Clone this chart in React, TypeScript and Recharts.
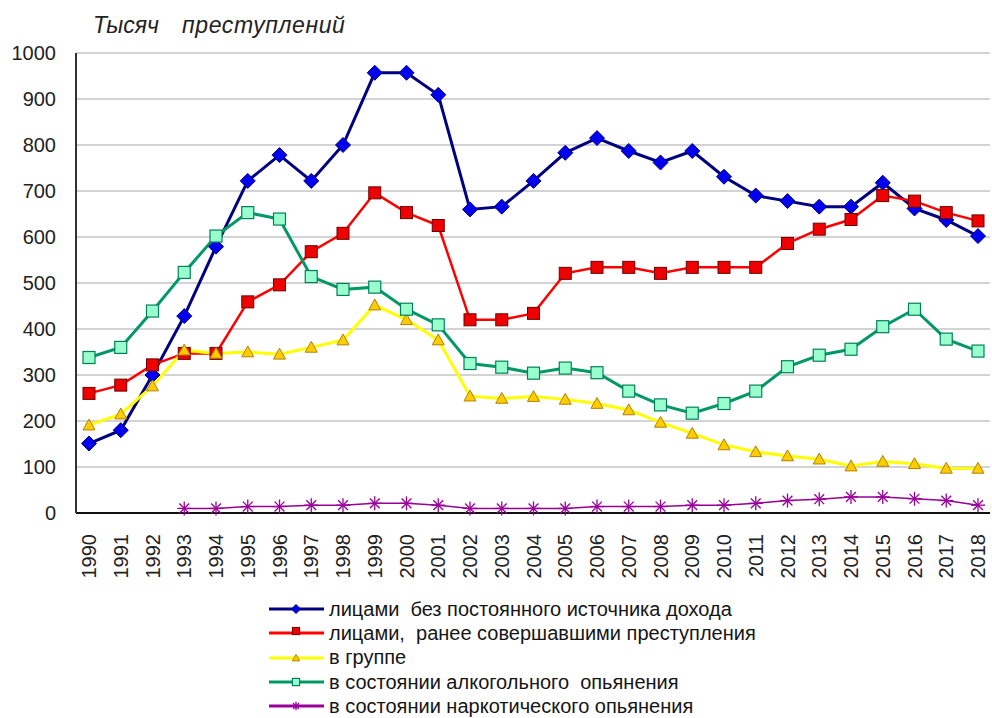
import React from 'react';
import {
  LineChart,
  Line,
  XAxis,
  YAxis,
  CartesianGrid,
  Legend,
} from 'recharts';

const years = [
  '1990', '1991', '1992', '1993', '1994', '1995', '1996', '1997', '1998', '1999',
  '2000', '2001', '2002', '2003', '2004', '2005', '2006', '2007', '2008', '2009',
  '2010', '2011', '2012', '2013', '2014', '2015', '2016', '2017', '2018',
];

// лицами без постоянного источника дохода
const noIncome = [
  151, 180, 300, 428, 579, 722, 778, 722, 800, 957,
  957, 909, 660, 666, 722, 783, 815, 787, 762, 787,
  731, 690, 678, 666, 666, 718, 662, 637, 602,
];

// лицами, ранее совершавшими преступления
const repeat = [
  260, 278, 322, 347, 347, 459, 496, 568, 608, 696,
  653, 625, 420, 420, 434, 521, 534, 534, 521, 534,
  534, 534, 586, 617, 638, 690, 678, 653, 635,
];

// в группе
const group = [
  191, 215, 276, 354, 347, 350, 345, 360, 376, 452,
  420, 376, 254, 249, 253, 247, 238, 224, 197, 173,
  148, 133, 124, 117, 102, 112, 107, 97, 97,
];

// в состоянии алкогольного опьянения
const alcohol = [
  338, 360, 439, 523, 602, 653, 639, 514, 486, 491,
  443, 409, 325, 317, 304, 315, 305, 265, 235, 217,
  238, 265, 318, 343, 356, 405, 443, 378, 352,
];

// в состоянии наркотического опьянения
const drugs = [
  null, null, null, 10, 10, 14, 14, 17, 17, 21,
  21, 17, 10, 10, 10, 10, 14, 14, 14, 17,
  17, 21, 27, 30, 35, 35, 31, 27, 17,
];

const yTicks = [0, 100, 200, 300, 400, 500, 600, 700, 800, 900, 1000];

const seriesOrder = ['noIncome', 'repeat', 'group', 'alcohol', 'drugs'];

const seriesNames = {
  noIncome: 'лицами  без постоянного источника дохода',
  repeat: 'лицами,  ранее совершавшими преступления',
  group: 'в группе',
  alcohol: 'в состоянии алкогольного  опьянения',
  drugs: 'в состоянии наркотического опьянения',
};

const data = years.map((y, i) => ({
  year: y,
  noIncome: noIncome[i],
  repeat: repeat[i],
  group: group[i],
  alcohol: alcohol[i],
  drugs: drugs[i],
}));

const FONT = '"Liberation Sans", Arial, sans-serif';

function Marker({ kind, cx, cy, small }: { kind: string; cx: number; cy: number; small?: boolean }) {
  if (cx == null || cy == null || isNaN(cy)) return null;
  const s = small ? 0.6 : 1;
  switch (kind) {
    case 'noIncome': {
      const r = 7.5 * s;
      return (
        <polygon
          points={`${cx},${cy - r} ${cx + r},${cy} ${cx},${cy + r} ${cx - r},${cy}`}
          fill="#0000ee"
          stroke="#000080"
          strokeWidth={1}
        />
      );
    }
    case 'repeat': {
      const r = 6 * s;
      const oy = small ? -2 : 0;
      return <rect x={cx - r} y={cy - r + oy} width={r * 2} height={r * 2} fill="#ee0000" stroke="#700000" strokeWidth={1} />;
    }
    case 'group': {
      const r = 6 * s;
      return (
        <polygon
          points={`${cx},${cy - r} ${cx + r},${cy + r * 0.8} ${cx - r},${cy + r * 0.8}`}
          fill="#ffcc00"
          stroke="#b08000"
          strokeWidth={1}
        />
      );
    }
    case 'alcohol': {
      const r = 6 * s;
      return <rect x={cx - r} y={cy - r} width={r * 2} height={r * 2} fill="#99ffcc" stroke="#00805a" strokeWidth={1.2} />;
    }
    case 'drugs': {
      const r = 7 * s;
      const d = r * 0.7;
      return (
        <g stroke="#990099" strokeWidth={1.3}>
          <line x1={cx - r} y1={cy} x2={cx + r} y2={cy} />
          <line x1={cx - d} y1={cy - d} x2={cx + d} y2={cy + d} />
          <line x1={cx - d} y1={cy + d} x2={cx + d} y2={cy - d} />
          <line x1={cx} y1={cy - r} x2={cx} y2={cy + r} />
        </g>
      );
    }
  }
  return null;
}

const dotFor = (kind: string) => (props: any) => (
  <Marker key={`${kind}-${props.index}`} kind={kind} cx={props.cx} cy={props.cy} />
);

const YearTick = (props: any) => {
  const { x, y, payload } = props;
  const tx = x + 7;
  const ty = y + 13;
  return (
    <text
      x={tx}
      y={ty}
      transform={`rotate(-90, ${tx}, ${ty})`}
      textAnchor="end"
      fontSize={20}
      fontFamily={FONT}
      fill="#222"
    >
      {payload.value}
    </text>
  );
};

const LegendContent = (props: any) => {
  const items = [...props.payload].sort(
    (a: any, b: any) => seriesOrder.indexOf(a.dataKey) - seriesOrder.indexOf(b.dataKey)
  );
  return (
    <div style={{ fontFamily: FONT, fontSize: 20, color: '#151515' }}>
      {items.map((entry: any) => (
        <div key={entry.dataKey} style={{ display: 'flex', alignItems: 'center', height: 24.3 }}>
          <svg width={58} height={16} style={{ marginRight: 3 }}>
            <line x1={1} y1={8} x2={56} y2={8} stroke={entry.color} strokeWidth={3} />
            <Marker kind={entry.dataKey} cx={28} cy={8} small />
          </svg>
          <span style={{ whiteSpace: 'pre' }}>{entry.value}</span>
        </div>
      ))}
    </div>
  );
};

const titleStyle: React.CSSProperties = {
  position: 'absolute',
  top: 12,
  fontFamily: FONT,
  fontStyle: 'italic',
  fontSize: 23,
  color: '#222',
  whiteSpace: 'pre',
};

export default function App() {
  return (
    <div style={{ position: 'absolute', left: 0, top: 0, width: 992, height: 718, background: '#fff' }}>
      <div style={{ ...titleStyle, left: 93 }}>Тысяч</div>
      <div style={{ ...titleStyle, left: 182, letterSpacing: 0.6 }}>преступлений</div>
      <LineChart
        width={992}
        height={718}
        data={data}
        margin={{ top: 53, right: 2, left: 0, bottom: 125 }}
      >
        <CartesianGrid vertical={false} stroke="#c4c4c4" strokeWidth={1.5} />
        <XAxis
          dataKey="year"
          scale="point"
          padding={{ left: 13, right: 12 }}
          height={80}
          tick={<YearTick />}
          tickLine={false}
          axisLine={{ stroke: '#111', strokeWidth: 2 }}
          interval={0}
        />
        <YAxis
          domain={[0, 1000]}
          ticks={yTicks}
          width={76}
          tickLine={false}
          tickSize={0}
          tickMargin={20}
          axisLine={{ stroke: '#333', strokeWidth: 2 }}
          tick={{ fontSize: 20, fontFamily: FONT, fill: '#222' }}
          interval={0}
        />
        <Legend
          layout="vertical"
          align="center"
          verticalAlign="middle"
          wrapperStyle={{ position: 'absolute', left: 268, top: 597, width: 600 }}
          content={<LegendContent />}
        />
        <Line
          dataKey="noIncome"
          name={seriesNames.noIncome}
          stroke="#000080"
          strokeWidth={3}
          dot={dotFor('noIncome')}
          activeDot={false}
          isAnimationActive={false}
        />
        <Line
          dataKey="repeat"
          name={seriesNames.repeat}
          stroke="#ff0000"
          strokeWidth={2.5}
          dot={dotFor('repeat')}
          activeDot={false}
          isAnimationActive={false}
        />
        <Line
          dataKey="group"
          name={seriesNames.group}
          stroke="#ffff00"
          strokeWidth={3}
          dot={dotFor('group')}
          activeDot={false}
          isAnimationActive={false}
        />
        <Line
          dataKey="alcohol"
          name={seriesNames.alcohol}
          stroke="#009966"
          strokeWidth={3}
          dot={dotFor('alcohol')}
          activeDot={false}
          isAnimationActive={false}
        />
        <Line
          dataKey="drugs"
          name={seriesNames.drugs}
          stroke="#990099"
          strokeWidth={1.5}
          dot={dotFor('drugs')}
          activeDot={false}
          isAnimationActive={false}
        />
      </LineChart>
    </div>
  );
}
